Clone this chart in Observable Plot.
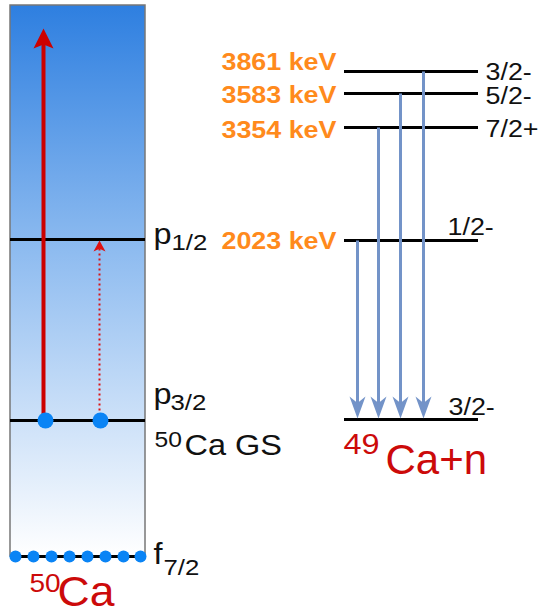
<!DOCTYPE html>
<html><head><meta charset="utf-8">
<script src="https://cdn.jsdelivr.net/npm/d3@7"></script>
<script src="https://cdn.jsdelivr.net/npm/@observablehq/plot@0.6"></script>
<style>body{margin:0;background:#fff}svg{display:block}</style>
</head><body><div id="chart"></div>
<script>
// ---- 50Ca shell picture (diagram units, y grows downward) ----
const shellNames = ["p", "p", "f"];
const shellSubs = ["1/2", "3/2", "7/2"];
const shellY = [239, 420, 556];
const boxX = [10, 145];
const boxY = [5, 556];
const gsNeutronX = [45, 100];
const f72NeutronX = [15, 33, 51, 69, 87, 105, 123, 140];
const excitationX = [43, 99];
const excitationTop = [28, 240]; // continuum, p1/2

// ---- 49Ca + n levels ----
const energies = [3861, 3583, 3354, 2023];
const levelY = [71, 93, 127, 240];
const spins = ["3/2-", "5/2-", "7/2+", "1/2-"];
const gsSpin = "3/2-";
const gsY = 419;
const levelX = [344, 478];
const decayX = [423, 400, 378, 357];
const energyBaseline = [69, 102, 137, 248];
const spinX = [485, 485, 485, 447];
const spinBaseline = [79, 103, 136, 234];

const FONT = "Liberation Sans, Arial, Helvetica, sans-serif";

function arrowSymbol(w, h, notch) {
  return {draw(ctx) {
    ctx.moveTo(0, 0);
    ctx.lineTo(w / 2, h);
    ctx.lineTo(0, h * notch);
    ctx.lineTo(-w / 2, h);
    ctx.closePath();
  }};
}

const box = [{x1: boxX[0], x2: boxX[1], y1: boxY[0], y2: boxY[1]}];
const exc = excitationX.map((x, i) => ({x, y1: shellY[1], y2: excitationTop[i]}));
const decays = decayX.map((x, i) => ({x, y1: levelY[i], y2: gsY - 1}));

const leftLabels = [
  {x: 153, y: 243, t: shellNames[0], s: 29},
  {x: 171, y: 249, t: shellSubs[0], s: 23},
  {x: 153, y: 403, t: shellNames[1], s: 29},
  {x: 170, y: 409, t: shellSubs[1], s: 23},
  {x: 154, y: 446, t: "50", s: 22},
  {x: 184, y: 454, t: "Ca GS", s: 29},
  {x: 153, y: 563, t: shellNames[2], s: 29},
  {x: 163, y: 574, t: shellSubs[2], s: 23}
];
const redLabels = [
  {x: 29, y: 591, t: "50", s: 25},
  {x: 57, y: 605, t: "Ca", s: 42},
  {x: 343, y: 453, t: "49", s: 29},
  {x: 385, y: 473, t: "Ca+n", s: 42}
];
const energyLabels = energies.map((e, i) => ({x: 336, y: energyBaseline[i], t: `${e} keV`}));
const spinLabels = spins.map((s, i) => ({x: spinX[i], y: spinBaseline[i], t: s}))
  .concat([{x: 448, y: 414, t: gsSpin}]);

const plot = Plot.plot({
  width: 540, height: 615,
  margin: 0,
  x: {domain: [0, 540], range: [0, 540], axis: null},
  y: {domain: [0, 615], range: [0, 615], axis: null},
  style: {background: "#fff"},
  marks: [
    Plot.rect(box, {x1: "x1", x2: "x2", y1: "y1", y2: "y2", fill: "url(#caGrad)", stroke: "#777", strokeWidth: 1.5}),
    Plot.ruleY(shellY, {y: d => d, x1: boxX[0], x2: boxX[1], stroke: "#000", strokeWidth: 3}),
    // excitation arrows
    Plot.link(exc.slice(0, 1), {x1: "x", x2: "x", y1: "y1", y2: d => d.y2 + 14, stroke: "#cc0000", strokeWidth: 4}),
    Plot.link(exc.slice(1), {x1: "x", x2: "x", y1: "y1", y2: d => d.y2 + 8, stroke: "#dd1111", strokeWidth: 2, strokeDasharray: "2,3"}),
    Plot.dot(exc.slice(0, 1), {x: "x", y: "y2", symbol: arrowSymbol(20, 20, 0.8), fill: "#cc0000", stroke: "none"}),
    Plot.dot(exc.slice(1), {x: "x", y: "y2", symbol: arrowSymbol(12, 11, 0.75), fill: "#dd1111", stroke: "none"}),
    // neutrons
    Plot.dot(gsNeutronX, {x: d => d, y: shellY[1], r: 8, fill: "#0a84f5", stroke: "none"}),
    Plot.dot(f72NeutronX, {x: d => d, y: shellY[2], r: 6, fill: "#0a84f5", stroke: "none"}),
    // 49Ca levels
    Plot.ruleY(levelY.concat([gsY]), {y: d => d, x1: levelX[0], x2: levelX[1], stroke: "#000", strokeWidth: 3}),
    Plot.link(decays, {x1: "x", x2: "x", y1: "y1", y2: d => d.y2 - 14, stroke: "#7393c8", strokeWidth: 3}),
    Plot.dot(decays, {x: "x", y: "y2", symbol: arrowSymbol(16, 22, 0.7), rotate: 180, fill: "#7393c8", stroke: "none"}),
    // labels
    Plot.text(leftLabels, {x: "x", y: "y", text: "t", fontSize: d => d.s, textAnchor: "start", lineAnchor: "bottom", fill: "#111", fontFamily: FONT}),
    Plot.text(redLabels, {x: "x", y: "y", text: "t", fontSize: d => d.s, textAnchor: "start", lineAnchor: "bottom", fill: "#cc0a0a", fontFamily: FONT}),
    Plot.text(energyLabels, {x: "x", y: "y", text: "t", fontSize: 24, fontWeight: "bold", textAnchor: "end", lineAnchor: "bottom", fill: "#ff8a1c", fontFamily: FONT}),
    Plot.text(spinLabels, {x: "x", y: "y", text: "t", fontSize: 24, textAnchor: "start", lineAnchor: "bottom", fill: "#111", fontFamily: FONT})
  ]
});

const svg = d3.select(plot);
const defs = svg.insert("defs", ":first-child");
const grad = defs.append("linearGradient").attr("id", "caGrad").attr("x1", 0).attr("y1", 0).attr("x2", 0).attr("y2", 1);
grad.append("stop").attr("offset", "0%").attr("stop-color", "#2e7fe0");
grad.append("stop").attr("offset", "45%").attr("stop-color", "#8fbcf0");
grad.append("stop").attr("offset", "100%").attr("stop-color", "#ffffff");

// the reference lettering is slightly wider than Arial
const stretch = {"Ca+n": 1.0, "Ca": 1.06};
svg.selectAll("text").each(function () {
  const t = this.getAttribute("transform");
  const k = stretch[this.textContent] ?? 1.12;
  if (t) this.setAttribute("transform", t + ` scale(${k},1)`);
});

document.getElementById("chart").appendChild(plot);
</script></body></html>
